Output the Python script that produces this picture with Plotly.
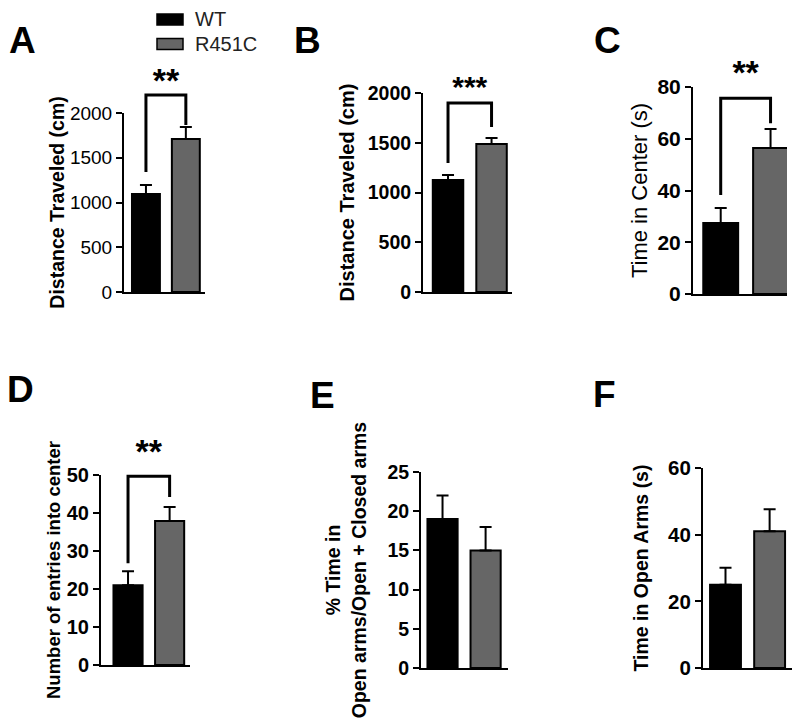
import plotly.graph_objects as go

# ---------------- data ----------------
panels = ["A", "B", "C", "D", "E", "F"]
groups = ["WT", "R451C"]
y_titles = [
    "Distance Traveled (cm)",
    "Distance Traveled (cm)",
    "Time in Center (s)",
    "Number of entries into center",
    "% Time in<br>Open arms/Open + Closed arms",
    "Time in Open Arms (s)",
]
wt_mean = [1095, 1126, 27.4, 21.0, 19.0, 25.0]
wt_sem = [100, 50, 5.8, 3.7, 3.0, 5.1]
r451c_mean = [1709, 1487, 56.4, 37.9, 15.0, 41.0]
r451c_sem = [135, 61, 7.4, 3.7, 3.0, 6.6]
y_max = [2000, 2000, 80, 50, 25, 60]
y_step = [500, 500, 20, 10, 5, 20]
# significance brackets (panels A-D): level of bracket top, end of WT leg, end of R451C leg
sig_label = ["**", "***", "**", "**", None, None]
bracket_top = [2201, 1899, 75.7, 49.7, None, None]
bracket_left = [1340, 1296, 38.3, 26.8, None, None]
bracket_right = [1866, 1658, 66.0, 44.2, None, None]
star_level = [2330, 2040, 84.5, 55.5, None, None]

# ---------------- layout geometry (pixels in the final picture) ----------------
W, H = 800, 726
OFF = 8  # page body margin of the html page
x_px = [(124, 205), (423, 512), (693, 787), (101, 190), (421, 508), (703, 793)]
y_px = [(292, 113), (292, 93), (294, 87), (665, 475), (668, 472), (668, 468)]
x_rng = [(-0.55, 1.48), (-0.575, 1.47), (-0.556, 1.33), (-0.65, 1.49), (-0.5, 1.52), (-0.51, 1.53)]
title_standoff = [0, 8, 4, 1, 16, 14]
title_size = [19.5, 20, 22, 18.5, 19.5, 19.5]
title_weight = ["bold", "bold", "normal", "bold", "bold", "bold"]
tick_size = [19, 19.5, 21, 20, 19.5, 20.5]
tick_weight = ["normal", "bold", "bold", "bold", "bold", "bold"]
star_size = [34, 30, 34, 34, None, None]
label_pos = [(22, 40), (307, 40), (607, 40), (20, 389), (322, 396), (604, 394)]

FONT = "Liberation Sans, Arial, sans-serif"
WT_COLOR = "#000000"
R_COLOR = "#666666"
EXT = 1.35

fig = go.Figure()
layout = {}


def px2x(p):
    return (p - OFF) / W


def px2y(p):
    return 1 - (p - OFF) / H


for i in range(6):
    n = i + 1
    xa = "x" if n == 1 else f"x{n}"
    ya = "y" if n == 1 else f"y{n}"
    for g, means, sems, col in [(0, wt_mean, wt_sem, WT_COLOR), (1, r451c_mean, r451c_sem, R_COLOR)]:
        fig.add_trace(go.Bar(
            x=[g], y=[means[i]], width=0.7, name=groups[g], legendgroup=groups[g],
            showlegend=False, xaxis=xa, yaxis=ya,
            marker=dict(color=col, line=dict(color="black", width=2)),
            error_y=dict(type="data", symmetric=False, array=[sems[i]], arrayminus=[0],
                         color="black", thickness=2, width=6),
        ))
    xd = [px2x(x_px[i][0]), px2x(x_px[i][1])]
    yd = [px2y(y_px[i][0]), px2y(y_px[i][1])]
    layout[f"xaxis{n if n > 1 else ''}"] = dict(
        domain=xd, range=list(x_rng[i]), anchor=ya, showline=True, linecolor="black",
        linewidth=2, showticklabels=False, ticks="", showgrid=False, zeroline=False,
        fixedrange=True, automargin=False)
    layout[f"yaxis{n if n > 1 else ''}"] = dict(
        domain=yd, range=[0, y_max[i]], anchor=xa, showline=True, linecolor="black",
        linewidth=2, ticks="outside", ticklen=6, tickwidth=2, tickcolor="black",
        tickvals=list(range(0, y_max[i] + 1, y_step[i])), showgrid=False, zeroline=False,
        tickfont=dict(family=FONT, size=tick_size[i], color="black", weight=tick_weight[i]),
        title=dict(text=y_titles[i], standoff=title_standoff[i],
                   font=dict(family=FONT, size=title_size[i], color="black", weight=title_weight[i])),
        fixedrange=True, automargin=False)

    # bracket / star overlay axes (same scale, taller domain so nothing is clipped)
    if bracket_top[i] is not None:
        m = n + 6
        bxa, bya = f"x{m}", f"y{m}"
        h = yd[1] - yd[0]
        layout[f"xaxis{m}"] = dict(domain=xd, range=list(x_rng[i]), anchor=bya, visible=False,
                                   fixedrange=True, automargin=False)
        layout[f"yaxis{m}"] = dict(domain=[yd[0], yd[0] + h * EXT], range=[0, y_max[i] * EXT],
                                   anchor=bxa, visible=False, fixedrange=True, automargin=False)
        fig.add_trace(go.Scatter(
            x=[0, 0, 1, 1], y=[bracket_left[i], bracket_top[i], bracket_top[i], bracket_right[i]],
            mode="lines", line=dict(color="black", width=3), showlegend=False,
            hoverinfo="skip", xaxis=bxa, yaxis=bya))
        fig.add_trace(go.Scatter(
            x=[0.5], y=[star_level[i]], mode="text", text=[sig_label[i]],
            textfont=dict(family=FONT, size=star_size[i], color="black", weight="bold"),
            textposition="middle center", showlegend=False, hoverinfo="skip",
            cliponaxis=False, xaxis=bxa, yaxis=bya))

annotations = []
for i, (lx, ly) in enumerate(label_pos):
    annotations.append(dict(
        text=panels[i], x=px2x(lx), y=px2y(ly), xref="paper", yref="paper",
        xanchor="center", yanchor="middle", showarrow=False,
        font=dict(family=FONT, size=37, color="black", weight="bold")))

# legend (custom key boxes + labels); first row kept inside the figure's top edge
shapes = []
leg_items = [(groups[0], WT_COLOR, 19.5), (groups[1], R_COLOR, 44)]
for name, col, cy in leg_items:
    shapes.append(dict(type="rect", xref="paper", yref="paper",
                       x0=px2x(157), x1=px2x(183), y0=px2y(cy + 5.5), y1=px2y(cy - 5.5),
                       fillcolor=col, line=dict(color="black", width=1.5)))
    annotations.append(dict(
        text=name, x=px2x(194), y=px2y(cy), xref="paper", yref="paper",
        xanchor="left", yanchor="middle", showarrow=False, borderpad=0,
        font=dict(family=FONT, size=20, color="#222222")))

fig.update_layout(
    width=W, height=H, margin=dict(l=0, r=0, t=0, b=0, pad=0, autoexpand=False),
    paper_bgcolor="white", plot_bgcolor="rgba(0,0,0,0)",
    barmode="overlay", showlegend=False,
    annotations=annotations, shapes=shapes,
    font=dict(family=FONT, color="black"),
    **layout,
)

fig.write_html("out.html")
